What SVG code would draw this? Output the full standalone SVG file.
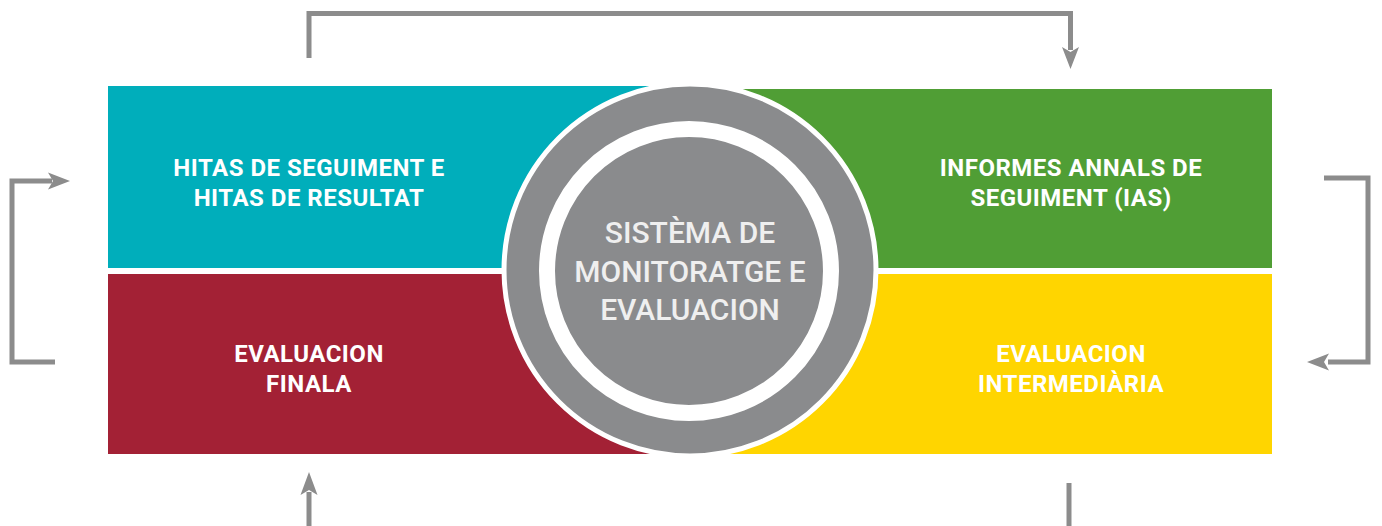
<svg xmlns="http://www.w3.org/2000/svg" width="1382" height="526" viewBox="0 0 1382 526">
  <defs>
    <style>
      .lbl { font-family: Roboto, "Liberation Sans", sans-serif; font-weight: 700; font-size: 24px; fill: #ffffff; text-anchor: middle; letter-spacing: 0.5px; }
      .ctr { font-family: Roboto, "Liberation Sans", sans-serif; font-weight: 500; font-size: 30px; fill: #efefef; text-anchor: middle; letter-spacing: 0px; }
      .conn { fill: none; stroke: #8c8c8c; stroke-width: 5; stroke-linejoin: miter; stroke-linecap: butt; }
      .head { fill: #8c8c8c; }
    </style>
  </defs>
  <rect width="1382" height="526" fill="#ffffff"/>

  <g id="node-hitas">
    <rect x="108" y="86" width="582" height="182" fill="#00AEBB"/>
    <text class="lbl" x="309" y="176">HITAS DE SEGUIMENT E</text>
    <text class="lbl" x="309" y="206">HITAS DE RESULTAT</text>
  </g>
  <g id="node-informes">
    <rect x="690" y="89" width="582" height="179" fill="#509E35"/>
    <text class="lbl" x="1071" y="176">INFORMES ANNALS DE</text>
    <text class="lbl" x="1071" y="206">SEGUIMENT (IAS)</text>
  </g>
  <g id="node-finala">
    <rect x="108" y="274" width="582" height="180" fill="#A32135"/>
    <text class="lbl" x="309" y="362">EVALUACION</text>
    <text class="lbl" x="309" y="392">FINALA</text>
  </g>
  <g id="node-intermediaria">
    <rect x="690" y="274" width="582" height="180" fill="#FFD500"/>
    <text class="lbl" x="1071" y="362">EVALUACION</text>
    <text class="lbl" x="1071" y="392">INTERMEDIÀRIA</text>
  </g>

  <g id="node-center">
    <circle cx="690" cy="270" r="186" fill="#8A8B8D" stroke="#ffffff" stroke-width="5"/>
    <circle cx="689" cy="271" r="142" fill="#8A8B8D" stroke="#ffffff" stroke-width="16"/>
    <text class="ctr" x="690" y="243">SISTÈMA DE</text>
    <text class="ctr" x="690" y="282">MONITORATGE E</text>
    <text class="ctr" x="690" y="320">EVALUACION</text>
  </g>

  <g id="connectors">
    <path class="conn" d="M309 58 V13.5 H1070.5 V50"/>
    <polygon class="head" points="1070.5,69 1062,47 1070.5,52 1079,47"/>

    <path class="conn" d="M55 362 H12 V181 H52"/>
    <polygon class="head" points="70,181 48,172.5 53,181 48,189.5"/>

    <path class="conn" d="M1324 178 H1368 V362 H1328"/>
    <polygon class="head" points="1307,362 1329,353.5 1324,362 1329,370.5"/>

    <path class="conn" d="M309 526 V492"/>
    <polygon class="head" points="309,472 300.5,495 309,490 317.5,495"/>

    <path class="conn" d="M1069 483 V526"/>
  </g>
</svg>
